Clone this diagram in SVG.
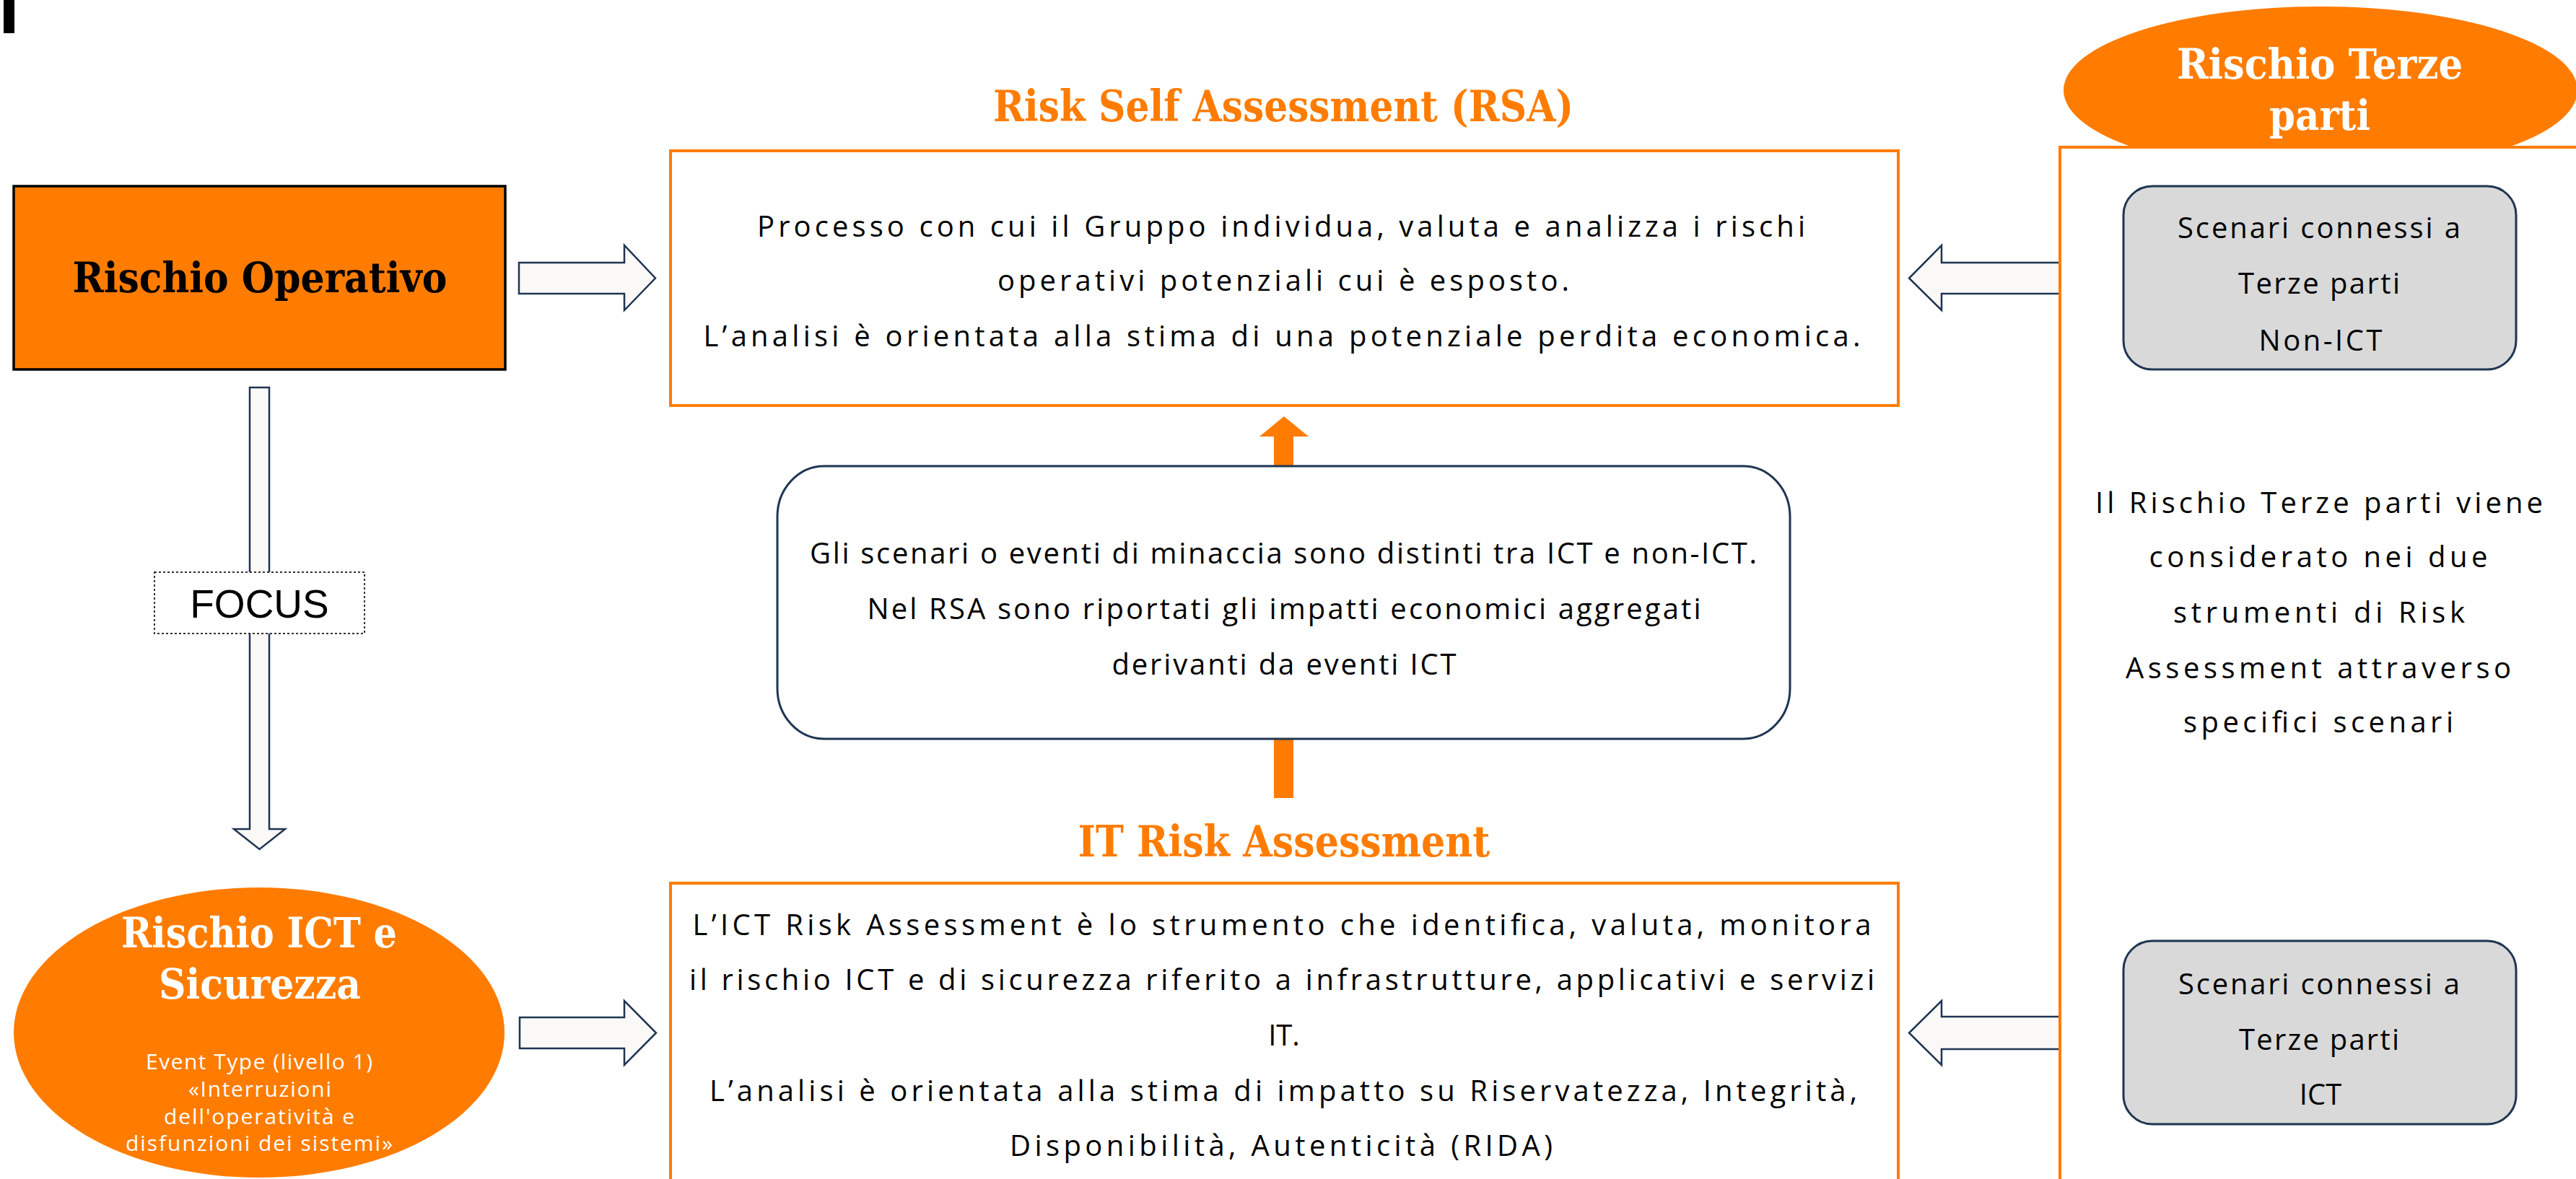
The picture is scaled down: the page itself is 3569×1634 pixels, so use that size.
<svg xmlns="http://www.w3.org/2000/svg" width="3569" height="1634" viewBox="0 0 3569 1634">
<style>
.body{font-family:"Open Sans","Liberation Sans",sans-serif;font-size:40px;fill:#000;text-anchor:middle}
.title{font-family:"DejaVu Serif","Liberation Serif",serif;font-weight:bold;text-anchor:middle}
.orangeT{fill:#FF7C00;font-size:60px}
.whiteT{fill:#fff;font-size:58px}
.evt{font-family:"Open Sans","Liberation Sans",sans-serif;font-size:30px;fill:#fff;text-anchor:middle}
.box{fill:#fff;stroke:#FF7C00;stroke-width:4}
.gray{fill:#D9D9D9;stroke:#1F3552;stroke-width:3}
.blk{fill:#FAF9F7;stroke:#1F3552;stroke-width:2.5;stroke-linejoin:miter}
</style>
<rect x="0" y="0" width="3569" height="1634" fill="#fff"/>
<rect x="5" y="0" width="15" height="46" fill="#000"/>

<g id="connectors">
  <polygon class="blk" points="719,364 865,364 865,340 908,385.5 865,430 865,407 719,407"/>
  <polygon class="blk" points="720,1410 865,1410 865,1387 909,1431.5 865,1476 865,1453 720,1453"/>
  <polygon class="blk" points="2855,364 2690,364 2690,340 2645,385.5 2690,430 2690,407 2855,407"/>
  <polygon class="blk" points="2855,1409 2690,1409 2690,1387 2645,1431.5 2690,1476 2690,1454 2855,1454"/>
  <polygon class="blk" points="346,537 373,537 373,1149 395,1149 359.5,1177 324,1149 346,1149"/>
  <polygon fill="#FF7C00" points="1765,1106 1792,1106 1792,605 1813,605 1779,577 1745,605 1765,605"/>
</g>

<g id="focus-label">
  <rect x="214" y="793" width="291" height="85" fill="#fff" stroke="#333" stroke-width="2" stroke-dasharray="3,3"/>
  <text x="359.5" y="856" font-family="Liberation Sans, Arial, sans-serif" font-size="55" text-anchor="middle" fill="#000">FOCUS</text>
</g>

<g id="rischio-operativo">
  <rect x="19" y="258" width="681" height="254" fill="#FF7C00" stroke="#000" stroke-width="3.5"/>
  <text class="title" x="360" y="405" font-size="58" fill="#000" textLength="519" lengthAdjust="spacingAndGlyphs">Rischio Operativo</text>
</g>

<g id="rsa">
  <text class="title orangeT" x="1778" y="168" textLength="804" lengthAdjust="spacingAndGlyphs">Risk Self Assessment (RSA)</text>
  <rect class="box" x="929" y="209" width="1701" height="353"/>
  <text class="body" x="1775" y="328" textLength="1452" lengthAdjust="spacing">Processo con cui il Gruppo individua, valuta e analizza i rischi</text>
  <text class="body" x="1778" y="403" textLength="792" lengthAdjust="spacing">operativi potenziali cui è esposto.</text>
  <text class="body" x="1776" y="480" textLength="1603" lengthAdjust="spacing">L’analisi è orientata alla stima di una potenziale perdita economica.</text>
</g>

<g id="scenari-box">
  <rect x="1077" y="646" width="1403" height="378" rx="65" ry="70" fill="#fff" stroke="#1F3552" stroke-width="3"/>
  <text class="body" x="1778" y="781" textLength="1312" lengthAdjust="spacing">Gli scenari o eventi di minaccia sono distinti tra ICT e non-ICT.</text>
  <text class="body" x="1779" y="858" textLength="1155" lengthAdjust="spacing">Nel RSA sono riportati gli impatti economici aggregati</text>
  <text class="body" x="1779" y="935" textLength="477" lengthAdjust="spacing">derivanti da eventi ICT</text>
</g>

<g id="it-risk">
  <text class="title orangeT" x="1779" y="1187" textLength="571" lengthAdjust="spacingAndGlyphs">IT Risk Assessment</text>
  <rect class="box" x="929" y="1224" width="1701" height="430"/>
  <text class="body" x="1776" y="1296" textLength="1633" lengthAdjust="spacing">L’ICT Risk Assessment è lo strumento che identifica, valuta, monitora</text>
  <text class="body" x="1776" y="1372" textLength="1642" lengthAdjust="spacing">il rischio ICT e di sicurezza riferito a infrastrutture, applicativi e servizi</text>
  <text class="body" x="1779" y="1449">IT.</text>
  <text class="body" x="1778" y="1526" textLength="1590" lengthAdjust="spacing">L’analisi è orientata alla stima di impatto su Riservatezza, Integrità,</text>
  <text class="body" x="1775" y="1602" textLength="752" lengthAdjust="spacing">Disponibilità, Autenticità (RIDA)</text>
</g>

<g id="rischio-ict">
  <ellipse cx="359" cy="1431" rx="340" ry="201" fill="#FF7C00"/>
  <text class="title whiteT" x="359" y="1313" textLength="382" lengthAdjust="spacingAndGlyphs">Rischio ICT e</text>
  <text class="title whiteT" x="360" y="1384" textLength="280" lengthAdjust="spacingAndGlyphs">Sicurezza</text>
  <text class="evt" x="359" y="1482" textLength="314" lengthAdjust="spacing">Event Type (livello 1)</text>
  <text class="evt" x="360" y="1520" textLength="198" lengthAdjust="spacing">«Interruzioni</text>
  <text class="evt" x="359" y="1558" textLength="264" lengthAdjust="spacing">dell'operatività e</text>
  <text class="evt" x="359" y="1595" textLength="370" lengthAdjust="spacing">disfunzioni dei sistemi»</text>
</g>

<g id="rischio-terze-parti">
  <ellipse cx="3215" cy="125" rx="356" ry="116" fill="#FF7C00"/>
  <text class="title whiteT" x="3214" y="109" textLength="396" lengthAdjust="spacingAndGlyphs">Rischio Terze</text>
  <text class="title whiteT" x="3214" y="180" textLength="140" lengthAdjust="spacingAndGlyphs">parti</text>
  <rect class="box" x="2854" y="204" width="760" height="1460"/>
  <text class="body" x="3213" y="711" textLength="620" lengthAdjust="spacing">Il Rischio Terze parti viene</text>
  <text class="body" x="3212" y="786" textLength="469" lengthAdjust="spacing">considerato nei due</text>
  <text class="body" x="3213" y="863" textLength="404" lengthAdjust="spacing">strumenti di Risk</text>
  <text class="body" x="3212" y="940" textLength="534" lengthAdjust="spacing">Assessment attraverso</text>
  <text class="body" x="3212" y="1015" textLength="374" lengthAdjust="spacing">specifici scenari</text>
</g>

<g id="scenari-non-ict">
  <rect class="gray" x="2942" y="258" width="544" height="254" rx="40" ry="40"/>
  <text class="body" x="3213" y="330" textLength="392" lengthAdjust="spacing">Scenari connessi a</text>
  <text class="body" x="3213" y="407" textLength="224" lengthAdjust="spacing">Terze parti</text>
  <text class="body" x="3215" y="486" textLength="171" lengthAdjust="spacing">Non-ICT</text>
</g>

<g id="scenari-ict">
  <rect class="gray" x="2942" y="1304" width="544" height="254" rx="40" ry="40"/>
  <text class="body" x="3213" y="1378" textLength="390" lengthAdjust="spacing">Scenari connessi a</text>
  <text class="body" x="3213" y="1455" textLength="222" lengthAdjust="spacing">Terze parti</text>
  <text class="body" x="3215" y="1531">ICT</text>
</g>
</svg>
